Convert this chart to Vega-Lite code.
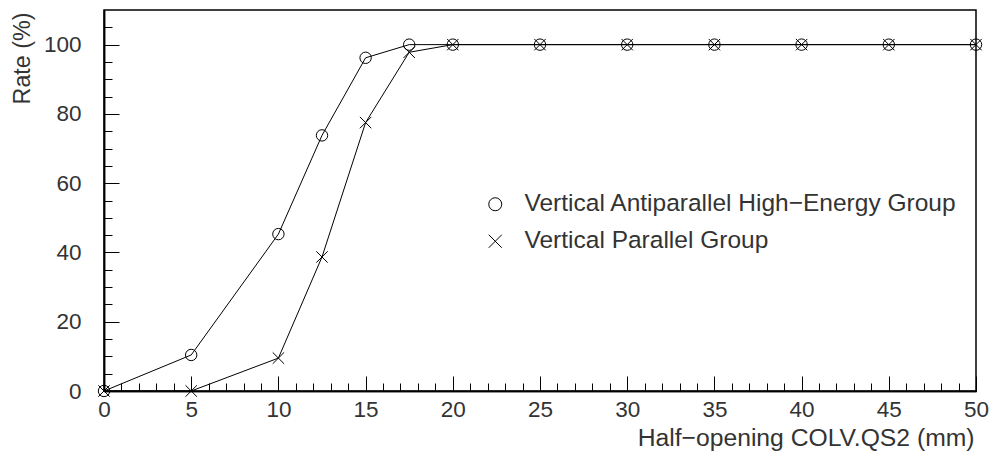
{
  "$schema": "https://vega.github.io/schema/vega-lite/v6.json",
  "width": 872,
  "height": 381,
  "autosize": {"type": "none"},
  "padding": {"left": 104, "top": 10, "right": 17, "bottom": 66},
  "background": "white",
  "config": {
    "view": {"stroke": "black", "strokeWidth": 1.5},
    "font": "Liberation Sans",
    "axis": {
      "domainColor": "black",
      "domainWidth": 1.5,
      "tickColor": "black",
      "tickWidth": 1,
      "grid": false,
      "labelFont": "Liberation Sans",
      "labelFontSize": 22.5,
      "labelColor": "#333",
      "titleFont": "Liberation Sans",
      "titleFontSize": 23,
      "titleFontWeight": "normal",
      "titleColor": "#333"
    }
  },
  "data": {
    "values": [
      {"x": 0, "rate": 0, "group": "Vertical Antiparallel High−Energy Group"},
      {"x": 5, "rate": 10.4, "group": "Vertical Antiparallel High−Energy Group"},
      {"x": 10, "rate": 45.3, "group": "Vertical Antiparallel High−Energy Group"},
      {"x": 12.5, "rate": 73.8, "group": "Vertical Antiparallel High−Energy Group"},
      {"x": 15, "rate": 96.2, "group": "Vertical Antiparallel High−Energy Group"},
      {"x": 17.5, "rate": 100, "group": "Vertical Antiparallel High−Energy Group"},
      {"x": 20, "rate": 100, "group": "Vertical Antiparallel High−Energy Group"},
      {"x": 25, "rate": 100, "group": "Vertical Antiparallel High−Energy Group"},
      {"x": 30, "rate": 100, "group": "Vertical Antiparallel High−Energy Group"},
      {"x": 35, "rate": 100, "group": "Vertical Antiparallel High−Energy Group"},
      {"x": 40, "rate": 100, "group": "Vertical Antiparallel High−Energy Group"},
      {"x": 45, "rate": 100, "group": "Vertical Antiparallel High−Energy Group"},
      {"x": 50, "rate": 100, "group": "Vertical Antiparallel High−Energy Group"},
      {"x": 0, "rate": 0, "group": "Vertical Parallel Group"},
      {"x": 5, "rate": 0, "group": "Vertical Parallel Group"},
      {"x": 10, "rate": 9.5, "group": "Vertical Parallel Group"},
      {"x": 12.5, "rate": 38.7, "group": "Vertical Parallel Group"},
      {"x": 15, "rate": 77.5, "group": "Vertical Parallel Group"},
      {"x": 17.5, "rate": 97.8, "group": "Vertical Parallel Group"},
      {"x": 20, "rate": 100, "group": "Vertical Parallel Group"},
      {"x": 25, "rate": 100, "group": "Vertical Parallel Group"},
      {"x": 30, "rate": 100, "group": "Vertical Parallel Group"},
      {"x": 35, "rate": 100, "group": "Vertical Parallel Group"},
      {"x": 40, "rate": 100, "group": "Vertical Parallel Group"},
      {"x": 45, "rate": 100, "group": "Vertical Parallel Group"},
      {"x": 50, "rate": 100, "group": "Vertical Parallel Group"}
    ]
  },
  "layer": [
    {
      "mark": {"type": "line", "color": "black", "strokeWidth": 1},
      "encoding": {
        "x": {
          "field": "x", "type": "quantitative",
          "scale": {"domain": [0, 50], "nice": false, "zero": false},
          "axis": {
            "orient": "bottom",
            "values": [0,1,2,3,4,5,6,7,8,9,10,11,12,13,14,15,16,17,18,19,20,21,22,23,24,25,26,27,28,29,30,31,32,33,34,35,36,37,38,39,40,41,42,43,44,45,46,47,48,49,50],
            "tickSize": -8, "labels": false, "title": null, "domain": true
          }
        },
        "y": {
          "field": "rate", "type": "quantitative",
          "scale": {"domain": [0, 110], "nice": false},
          "axis": {
            "orient": "left",
            "values": [0,5,10,15,20,25,30,35,40,45,50,55,60,65,70,75,80,85,90,95,100,105],
            "tickSize": -8, "labels": false, "title": null, "domain": true
          }
        },
        "detail": {"field": "group"}
      }
    },
    {
      "mark": {"type": "point", "filled": false, "stroke": "black", "strokeWidth": 1, "size": 130, "opacity": 1},
      "encoding": {
        "x": {
          "field": "x", "type": "quantitative",
          "axis": {
            "orient": "bottom",
            "values": [0,5,10,15,20,25,30,35,40,45,50],
            "tickSize": -15, "labelPadding": 33, "labelBaseline": "middle", "labelFlush": false,
            "title": "Half−opening COLV.QS2 (mm)",
            "titleFontSize": 24.7,
            "titleAnchor": "end", "titleAlign": "right", "titleBaseline": "middle",
            "titleX": 870, "titleY": 47
          }
        },
        "y": {
          "field": "rate", "type": "quantitative",
          "axis": {
            "orient": "left",
            "values": [0,20,40,60,80,100],
            "tickSize": -15, "labelPadding": 38, "labelBaseline": "middle",
            "title": "Rate (%)",
            "titleFontSize": 23.3,
            "titleAngle": -90, "titleAlign": "right", "titleBaseline": "middle",
            "titleX": -82, "titleY": 2
          }
        },
        "shape": {
          "field": "group", "type": "nominal",
          "scale": {
            "domain": ["Vertical Antiparallel High−Energy Group", "Vertical Parallel Group"],
            "range": ["circle", "M-1,-1L1,1M-1,1L1,-1"]
          },
          "legend": {
            "title": null,
            "orient": "none",
            "legendX": 379,
            "legendY": 182,
            "padding": 0,
            "symbolSize": 169,
            "symbolStrokeColor": "black",
            "symbolStrokeWidth": 1,
            "symbolFillColor": "transparent",
            "labelFont": "Liberation Sans",
            "labelFontSize": 24.5,
            "labelColor": "#333",
            "labelOffset": 17,
            "labelLimit": 600,
            "rowPadding": 12
          }
        }
      }
    }
  ],
  "resolve": {"axis": {"x": "independent", "y": "independent"}}
}
